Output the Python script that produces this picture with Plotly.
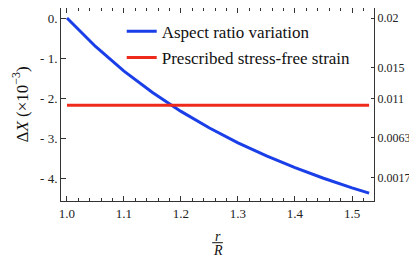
import plotly.graph_objects as go

r_over_R = [1.00, 1.05, 1.10, 1.15, 1.20, 1.25, 1.30, 1.35, 1.40, 1.45, 1.50, 1.53]
delta_x = [0.0, -0.707, -1.319, -1.853, -2.322, -2.736, -3.103, -3.430, -3.722, -3.985, -4.222, -4.353]
stress_free_x = [1.00, 1.53]
stress_free_y = [-2.17, -2.17]

left_tick_vals = [0, -1, -2, -3, -4]
left_tick_text = ["0.", "- 1.", "- 2.", "- 3.", "- 4."]
right_tick_vals = [0.0, -1.24, -2.0, -2.97, -3.97]
right_tick_text = ["0.02", "0.015", "0.011", "0.0063", "0.0017"]

FONT = "Liberation Serif"
fig = go.Figure()
fig.add_trace(go.Scatter(x=r_over_R, y=delta_x, mode="lines", name="Aspect ratio variation",
                         line=dict(color="#1a3fe8", width=3), legendgroup="a"))
fig.add_trace(go.Scatter(x=stress_free_x, y=stress_free_y, mode="lines", name="Prescribed stress-free strain",
                         line=dict(color="#ee2a1c", width=3), legendgroup="b"))
fig.add_trace(go.Scatter(x=[None], y=[None], yaxis="y2", showlegend=False, hoverinfo="skip"))

# page body has ~8px default margin; the plot area is offset accordingly
fig.update_layout(
    width=417, height=257,
    margin=dict(l=53, r=51, t=0, b=64, autoexpand=False),
    plot_bgcolor="white", paper_bgcolor="white",
    font=dict(family=FONT, size=13, color="#222"),
    showlegend=True,
    legend=dict(x=0.194, y=0.97, xanchor="left", yanchor="top", bgcolor="rgba(0,0,0,0)",
                font=dict(family=FONT, size=17, color="#111"), tracegroupgap=1),
    xaxis=dict(range=[0.9895, 1.5386], tickvals=[1.0, 1.1, 1.2, 1.3, 1.4, 1.5],
               ticktext=["1.0", "1.1", "1.2", "1.3", "1.4", "1.5"], automargin=False,
               ticks="inside", ticklen=5, tickwidth=1, tickcolor="#333",
               minor=dict(dtick=0.02, tick0=1.0, ticks="inside", ticklen=3, tickcolor="#333", showgrid=False),
               showline=True, linecolor="#333", linewidth=1, mirror="ticks", showgrid=False, zeroline=False),
    yaxis=dict(range=[-4.55, 0.25], tickvals=left_tick_vals, ticktext=left_tick_text, automargin=False,
               ticks="inside", ticklen=5, tickcolor="#333",
               showline=True, linecolor="#333", linewidth=1, mirror=True, showgrid=False, zeroline=False),
    yaxis2=dict(range=[-4.55, 0.25], overlaying="y", side="right", tickvals=right_tick_vals,
                ticktext=right_tick_text, ticks="inside", ticklen=3, tickcolor="#333", automargin=False,
                tickfont=dict(size=12),
                showline=True, linecolor="#333", showgrid=False, zeroline=False),
)

fig.add_annotation(text="Δ<i>X</i> (×10<sup>−3</sup>)", xref="paper", yref="paper", x=0, y=0.5,
                   xanchor="center", yanchor="middle", xshift=-41, textangle=-90, showarrow=False,
                   font=dict(family=FONT, size=17, color="#111"))
fig.add_annotation(text="<i>r</i>", xref="paper", yref="paper", x=0.5, y=0, yanchor="middle",
                   yshift=-35, showarrow=False, font=dict(family=FONT, size=14, color="#111"))
fig.add_annotation(text="<i>R</i>", xref="paper", yref="paper", x=0.5, y=0, yanchor="middle",
                   yshift=-49, showarrow=False, font=dict(family=FONT, size=14, color="#111"))
fig.add_shape(type="line", xref="paper", yref="paper", x0=0.483, x1=0.517, y0=-0.216, y1=-0.216,
              line=dict(color="#111", width=1))

fig.write_html("out.html")
